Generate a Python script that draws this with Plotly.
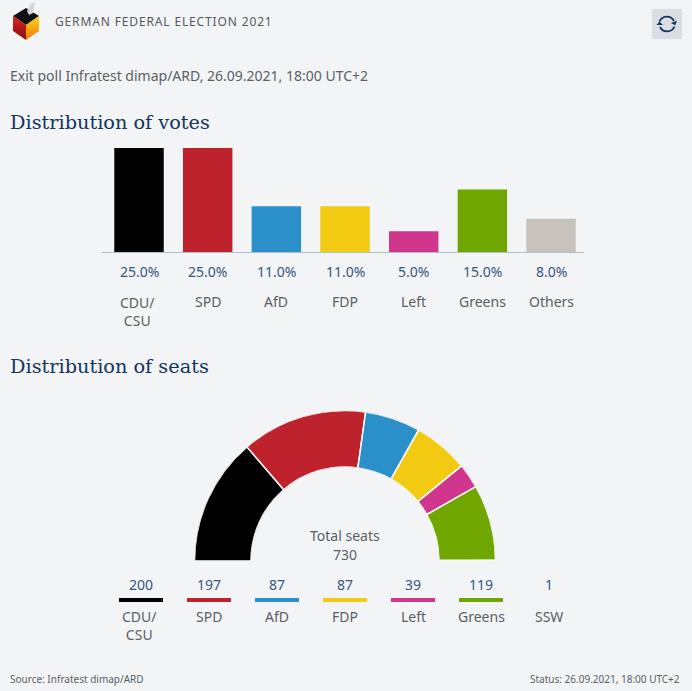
import base64
import plotly.graph_objects as go

# votes, exit poll
vote_parties = ["CDU/<br>CSU", "SPD", "AfD", "FDP", "Left", "Greens", "Others"]
vote_shares = [25.0, 25.0, 11.0, 11.0, 5.0, 15.0, 8.0]
vote_colors = ["#000000", "#be232d", "#2b8fc9", "#f2ca12", "#cf368c", "#70a600", "#c7c2bc"]

# seats
seat_parties = ["CDU/<br>CSU", "SPD", "AfD", "FDP", "Left", "Greens", "SSW"]
seat_counts = [200, 197, 87, 87, 39, 119, 1]
seat_colors = ["#000000", "#be232d", "#2b8fc9", "#f2ca12", "#cf368c", "#70a600", "rgba(0,0,0,0)"]

W, H = 692, 691
BG = "#f2f4f6"
SANS = "Noto Sans, Open Sans, sans-serif"
SERIF = "DejaVu Serif, serif"
NAVY = "#12345f"
VALUE = "#34567f"
GREY = "#5a5f66"


def px(x):
    return x / W


def py(y):
    return 1 - y / H


logo_svg = """<svg xmlns='http://www.w3.org/2000/svg' viewBox='0 0 30 40' width='30' height='40'>
<defs>
<linearGradient id='a' x1='0' y1='0' x2='0' y2='1'><stop offset='0' stop-color='#e8201a'/><stop offset='1' stop-color='#7a1210'/></linearGradient>
<linearGradient id='b' x1='0' y1='0' x2='0' y2='1'><stop offset='0' stop-color='#ffd21a'/><stop offset='1' stop-color='#f07c10'/></linearGradient>
</defs>
<polygon points='1,14 14,6 27,14 14,23' fill='#111'/>
<polygon points='1,14 14,23 14,38 1,29' fill='url(#a)'/>
<polygon points='27,14 14,23 14,38 27,29' fill='url(#b)'/>
<polygon points='15,9 19,2 23,0 21,11 17,13' fill='#d2d4d6'/>
</svg>"""

refresh_svg = """<svg xmlns='http://www.w3.org/2000/svg' viewBox='0 0 30 30' width='30' height='30'>
<rect width='30' height='30' fill='#d8dee2'/>
<path d='M7.5 12.5 A8 8 0 0 1 22 12' fill='none' stroke='#12345f' stroke-width='1.8'/>
<polygon points='19,13 25.5,13 22.5,16.5' fill='#12345f' transform='rotate(-20 22 14)'/>
<path d='M22.5 17.5 A8 8 0 0 1 8 18' fill='none' stroke='#12345f' stroke-width='1.8'/>
<polygon points='4.5,16 11,16 7.5,12.5' fill='#12345f'/>
</svg>"""


def svg_uri(svg):
    return "data:image/svg+xml;base64," + base64.b64encode(svg.encode()).decode()


def label(text, x, y, size=14, color=GREY, family=SANS, anchor="left", xref="paper", xshift=0):
    if xref == "paper":
        x = px(x)
    return dict(text=text, x=x, y=py(y), xref=xref, yref="paper", showarrow=False,
                xanchor=anchor, yanchor="middle", align="center",
                xshift=xshift, borderpad=0,
                font=dict(family=family, size=size, color=color))


fig = go.Figure()

fig.add_trace(go.Bar(x=vote_parties, y=vote_shares, marker=dict(color=vote_colors, line_width=0),
                     width=0.72, xaxis="x", yaxis="y", hoverinfo="x+y"))

# half ring, angles run clockwise from the left end
start = 0
for name, seats, color in zip(seat_parties, seat_counts, seat_colors):
    span = seats / sum(seat_counts) * 180
    fig.add_trace(go.Barpolar(r=[1], theta=[start + span / 2], width=[span], name=name,
                              marker=dict(color=color, line=dict(color="#ffffff", width=1.5)),
                              subplot="polar"))
    start += span

# legend strips under the ring
fig.add_trace(go.Bar(x=seat_parties, y=[1] * len(seat_parties), marker=dict(color=seat_colors, line_width=0),
                     width=44 / 68, xaxis="x2", yaxis="y2", hoverinfo="skip"))

annotations = [
    label("GERMAN FEDERAL ELECTION 2021", 54, 21.5, size=12, color="#55595e", xshift=12),
    label("Exit poll Infratest dimap/ARD, 26.09.2021, 18:00 UTC+2", 9, 75, size=14),
    label("Distribution of votes", 9, 122.5, size=19.3, color=NAVY, family=SERIF),
    label("Distribution of seats", 9, 366.5, size=19.3, color=NAVY, family=SERIF),
    label("Total seats", 345, 535, anchor="center"),
    label("730", 345, 554, anchor="center"),
    label("Source: Infratest dimap/ARD", 9, 679, size=10),
    label("Status: 26.09.2021, 18:00 UTC+2", 681, 679, size=10, anchor="right"),
]
for name, share in zip(vote_parties, vote_shares):
    annotations.append(label(f"{share:.1f}%", name, 271, color=VALUE, anchor="center", xref="x"))
    annotations.append(label(name, name, 301.5 if "<br>" not in name else 311, anchor="center", xref="x",
                             xshift=0 if "<br>" not in name else -2))
for name, seats in zip(seat_parties, seat_counts):
    annotations.append(label(str(seats), name, 584, color=VALUE, anchor="center", xref="x2"))
    annotations.append(label(name, name, 616 if "<br>" not in name else 625.5, anchor="center", xref="x2",
                             xshift=0 if "<br>" not in name else -2))

fig.update_layout(
    width=W,
    height=H,
    margin=dict(l=0, r=0, t=0, b=0),
    paper_bgcolor=BG,
    plot_bgcolor=BG,
    showlegend=False,
    annotations=annotations,
    xaxis=dict(domain=[px(102), px(584)], range=[-0.539, 6.48], type="category",
               categoryorder="array", categoryarray=vote_parties, showticklabels=False,
               ticks="", showgrid=False, zeroline=False, showline=True,
               linecolor="#b0bfcf", linewidth=1, fixedrange=True),
    yaxis=dict(domain=[py(252), py(148)], range=[0, 25], visible=False, fixedrange=True),
    xaxis2=dict(domain=[px(107), px(583)], range=[-0.5, 6.5], type="category",
                categoryorder="array", categoryarray=seat_parties, visible=False,
                anchor="y2", fixedrange=True),
    yaxis2=dict(domain=[py(602), py(598)], range=[0, 1], visible=False, anchor="x2", fixedrange=True),
    polar=dict(
        domain=dict(x=[px(194.5), px(495.5)], y=[py(561), py(410.5)]),
        sector=[0, 180],
        hole=94 / 150.5,
        bgcolor="rgba(0,0,0,0)",
        radialaxis=dict(range=[0, 1], visible=False),
        angularaxis=dict(direction="clockwise", rotation=180, visible=False),
    ),
    images=[
        dict(source=svg_uri(logo_svg), xref="paper", yref="paper", x=px(12), y=py(2),
             sizex=px(30), sizey=40 / H, xanchor="left", yanchor="top", sizing="stretch", layer="above"),
        dict(source=svg_uri(refresh_svg), xref="paper", yref="paper", x=px(652), y=py(9),
             sizex=px(30), sizey=30 / H, xanchor="left", yanchor="top", sizing="stretch", layer="above"),
    ],
)

# page margin would shift the chart by 8px, header text is letterspaced
post = """
document.body.style.margin='0';
document.body.style.background='#f2f4f6';
document.documentElement.style.overflow='hidden';
document.querySelectorAll('.annotation-text').forEach(function (t) {
  if (t.textContent.indexOf('GERMAN') === 0) { t.style.letterSpacing = '0.86px'; }
});
"""
fig.write_html("out.html", config=dict(displayModeBar=False), post_script=post)
